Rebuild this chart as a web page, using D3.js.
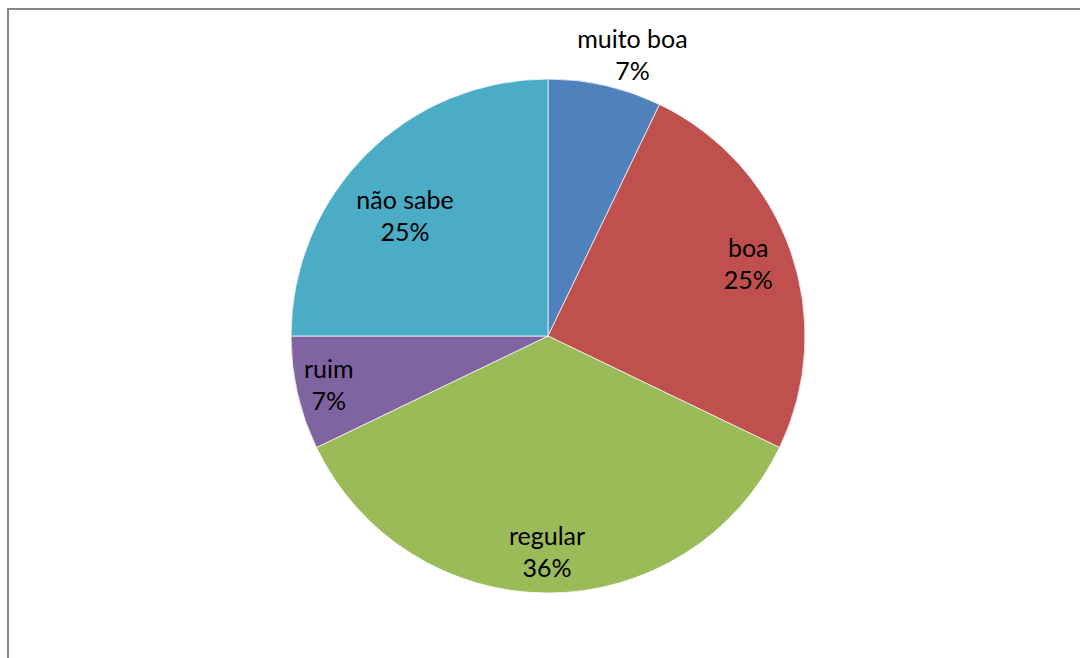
<!DOCTYPE html>
<html>
<head>
<meta charset="utf-8">
<script src="https://cdn.jsdelivr.net/npm/d3@7"></script>
<style>
  body { margin: 0; background: #fff; }
  text { font-family: Lato, "Open Sans", sans-serif; font-size: 25px; fill: #000; }
</style>
</head>
<body>
<div id="chart"></div>
<script>
// Data
const categories = ['muito boa', 'boa', 'regular', 'ruim', 'não sabe']
const counts = [2, 7, 10, 2, 7]
const colors = ['#4f81bd', '#c0504d', '#9bbb59', '#8064a2', '#4bacc6']

// label placement (radius from centre, extra nudge in px)
const labelRadius = [285, 210, 225, 227, 181]
const labelNudge = [[21, 6], [2, 6], [-1, 0], [2, 7], [-15, 17]]

const dimensions = {
  width: 1080,
  height: 658,
  cx: 548,
  cy: 336,
  radius: 257,
  lineGap: 32
}

const svg = d3.select('#chart')
  .append('svg')
  .attr('width', dimensions.width)
  .attr('height', dimensions.height)

// chart frame
svg.append('rect')
  .attr('x', 8)
  .attr('y', 9)
  .attr('width', dimensions.width + 20)
  .attr('height', dimensions.height + 20)
  .attr('fill', 'none')
  .attr('stroke', '#878787')
  .attr('stroke-width', 2)

const ctr = svg.append('g')
  .attr('transform', `translate(${dimensions.cx}, ${dimensions.cy})`)

const total = d3.sum(counts)
const pie = d3.pie().sort(null).value(d => d)
const arcs = pie(counts)

const arc = d3.arc()
  .innerRadius(0)
  .outerRadius(dimensions.radius)

ctr.selectAll('path')
  .data(arcs)
  .join('path')
  .attr('d', arc)
  .attr('fill', (d, i) => colors[i])
  .attr('stroke', '#fff')
  .attr('stroke-width', 0.7)

const labels = ctr.selectAll('text')
  .data(arcs)
  .join('text')
  .attr('text-anchor', 'middle')
  .attr('transform', (d, i) => {
    const a = (d.startAngle + d.endAngle) / 2
    const r = labelRadius[i]
    const x = r * Math.sin(a) + labelNudge[i][0]
    const y = -r * Math.cos(a) + labelNudge[i][1]
    return `translate(${x}, ${y})`
  })

labels.append('tspan')
  .attr('x', 0)
  .attr('y', -dimensions.lineGap / 2)
  .text((d, i) => categories[i])

labels.append('tspan')
  .attr('x', 0)
  .attr('y', dimensions.lineGap / 2)
  .text(d => Math.round(d.value / total * 100) + '%')
</script>
</body>
</html>
